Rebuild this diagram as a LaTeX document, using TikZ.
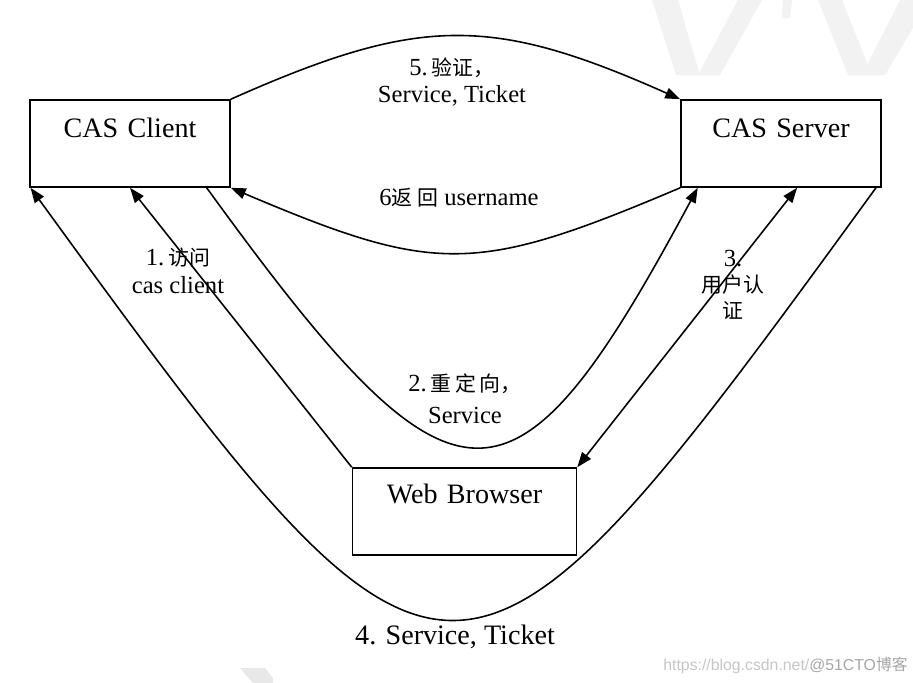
\documentclass[tikz,border=0pt]{standalone}
\usepackage{fontspec}
\setmainfont{Liberation Serif}
\newfontfamily\cjk{Noto Sans CJK SC}[Scale=0.85]
\newfontfamily\wmfont{Liberation Sans}
\newfontfamily\wmcjk{Noto Sans CJK SC}
\usetikzlibrary{arrows.meta}
\newcommand{\zh}[1]{{\cjk #1}}

\begin{document}
\begin{tikzpicture}[x=0.02cm, y=-0.02cm,
    box/.style={draw, line width=0.9pt, inner sep=0pt, align=center, font=\fontsize{16}{18}\selectfont},
    conn/.style={line width=0.9pt, -{Triangle[length=0.3cm, width=0.22cm]}},
    both/.style={line width=0.9pt, {Triangle[length=0.3cm, width=0.22cm]}-{Triangle[length=0.3cm, width=0.22cm]}},
    lbl/.style={inner sep=0pt, align=center, font=\fontsize{14}{15}\selectfont},
    wmtext/.style={inner sep=0pt, font=\wmfont\fontsize{9}{10}\selectfont}]
    \useasboundingbox (0,0) rectangle (913,683);

    % Watermark shapes
    \fill[gray!10] (652,0) -- (678,0) -- (700,75) -- (676,75) -- cycle;
    \fill[gray!10] (738,0) -- (762,0) -- (720,75) -- (698,75) -- cycle;
    \fill[gray!10] (783,0) -- (792,0) -- (790,18) -- (782,18) -- cycle;
    \fill[gray!10] (818,0) -- (842,0) -- (872,75) -- (848,75) -- cycle;
    \fill[gray!10] (900,0) -- (913,0) -- (913,28) -- (885,75) -- (862,75) -- cycle;
    \fill[gray!18] (240,668) -- (265,668) -- (273,678) -- (273,683) -- (253,683) -- cycle;

    % Boxes
    \node[box, text width=4cm, text height=0.74cm, text depth=1cm] (client) at (130,143.5) {CAS Client};
    \node[box, text width=4cm, text height=0.74cm, text depth=1cm] (server) at (781,143.5) {CAS Server};
    \node[box, text width=4.48cm, text height=0.7cm, text depth=1.04cm] (browser) at (464.5,511.5) {Web Browser};

    % 1: browser to client
    \draw[conn] (browser.north west) -- (client.south);
    \node[lbl, font=\fontsize{14}{16}\selectfont] (lone) at (178,271) {1.\,\zh{访问}\\cas client};

    % 2: redirect
    \draw[conn] (client.-30) .. controls +(250,345) and +(-185,345) .. (server.-152);
    \node[lbl, font=\fontsize{14}{18}\selectfont] (ltwo) at (465,399) {2.\,\zh{重\,定\,向，}\\Service};

    % 3: user login
    \draw[both] (server.-70) -- (browser.north east);
    \node[lbl] (lthree) at (733,285) {3.\\\zh{用户认}\\\zh{证}};

    % 4: back through browser
    \draw[conn] (server.-25) .. controls +(-418,575) and +(418,575) .. (client.-156);
    \node[lbl, font=\fontsize{16}{18}\selectfont] (lfour) at (455,637) {4. Service, Ticket};

    % 5: validate
    \draw[conn] (client.north east) .. controls +(189,-84) and +(-189,-84) .. (server.north west);
    \node[lbl] (lfive) at (452,82) {5.\,\zh{验证，}\\Service, Ticket};

    % 6: return username
    \draw[conn] (server.south west) .. controls +(-205,87) and +(205,87) .. (client.south east);
    \node[lbl] (lsix) at (459,198) {6\zh{返 回} username};

    % Watermark text
    \node[wmtext, anchor=east] (wm) at (908,665) {\textcolor{gray!45}{https://blog.csdn.net/}\textcolor{gray!70}{@51CTO{\wmcjk 博客}}};
\end{tikzpicture}
\end{document}
